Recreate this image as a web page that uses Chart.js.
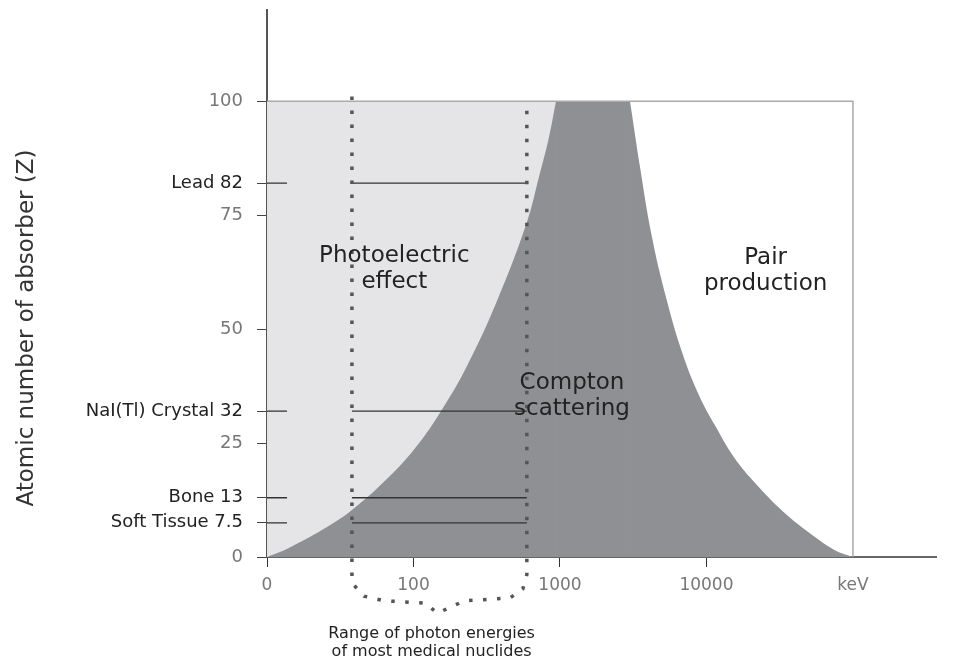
<!DOCTYPE html>
<html>
<head>
<meta charset="utf-8">
<script src="https://cdn.jsdelivr.net/npm/chart.js@4/dist/chart.umd.min.js"></script>
<style>
html, body { margin: 0; padding: 0; background: #fff; }
#wrap { width: 958px; height: 662px; }
</style>
</head>
<body>
<div id="wrap"><canvas id="chart"></canvas></div>
<script>
// boundary photoelectric / compton (energy keV, Z)
const photoEdgeE = [10, 14.1, 23.7, 38, 71.3, 105.6, 154, 232, 372, 595, 719, 841, 939];
const photoEdgeZ = [0, 2.0, 5.9, 10.3, 18.2, 24.4, 32.0, 41.9, 56.2, 73.5, 83.4, 92.1, 100];
// boundary compton / pair production
const pairEdgeE = [3006, 3516, 4246, 5294, 6808, 8892, 11610, 15410, 22120, 35420, 55060, 75330, 100000];
const pairEdgeZ = [100, 85.6, 70.2, 57.0, 45.0, 35.5, 28.5, 21.9, 15.8, 9.2, 4.4, 1.5, 0];

const absorbers = ['Soft Tissue', 'Bone', 'NaI(Tl) Crystal', 'Lead'];
const absorberZ = [7.5, 13, 32, 82];

// range of photon energies of most medical nuclides (keV)
const medicalRange = [38, 594];
// dotted brace drawn down below the axis
const braceE = [38, 38, 46, 63, 119, 146, 223, 455, 558, 594, 594];
const braceZ = [101, -5.7, -8.6, -9.6, -10.1, -12.3, -9.6, -9.0, -7.0, -3.9, 100];

const xTicks = [10, 100, 1000, 10000, 100000];
const xTickLabels = ['0', '100', '1000', '10000', 'keV'];
const yTicks = [0, 25, 50, 75, 100];

const regionText = [
  { lines: ['Photoelectric', 'effect'], e: 74, z: 63.2 },
  { lines: ['Compton', 'scattering'], e: 1208, z: 35.3 },
  { lines: ['Pair', 'production'], e: 25350, z: 62.7 }
];
const caption = { lines: ['Range of photon energies', 'of most medical nuclides'], e: 133, z: -18.9 };

const pts = (xs, ys) => xs.map((x, i) => ({ x: x, y: ys[i] }));

const LIGHT = '#e5e5e8', DARK = '#8f9094';
const topLeftE = photoEdgeE[photoEdgeE.length - 1];

function area(data, color, order, tension) {
  return { data: data, backgroundColor: color, borderWidth: 0, fill: 'origin', tension: tension, order: order };
}

let datasets = [
  // photoelectric zone (whole box up to the pair boundary top)
  area([{ x: xTicks[0], y: 100 }, { x: pairEdgeE[0], y: 100 }], LIGHT, 8, 0),
  // compton zone, built from the two boundaries and the flat top
  area(pts(photoEdgeE, photoEdgeZ), DARK, 7, 0.4),
  area([{ x: topLeftE, y: 100 }, { x: pairEdgeE[0], y: 100 }], DARK, 7, 0),
  area(pts(pairEdgeE, pairEdgeZ), DARK, 7, 0.4),
  {
    data: [{ x: xTicks[0], y: 100 }, { x: 100000, y: 100 }, { x: 100000, y: 0 }],
    borderColor: '#aaaaaa',
    borderWidth: 1.5,
    fill: false,
    order: 4
  }
];

absorberZ.forEach(z => {
  datasets.push({
    data: [{ x: 10, y: z }, { x: 13.7, y: z }, { x: 20, y: null },
           { x: medicalRange[0], y: z }, { x: medicalRange[1], y: z }],
    borderColor: '#333',
    borderWidth: 1.3,
    fill: false,
    order: 3
  });
});

datasets.push({
  data: pts(braceE, braceZ),
  borderColor: '#555',
  borderWidth: 3.5,
  borderDash: [3.5, 10.5],
  borderCapStyle: 'butt',
  fill: false,
  clip: false,
  order: 1
});

const textPlugin = {
  id: 'texts',
  afterDatasetsDraw(chart) {
    const ctx = chart.ctx, x = chart.scales.x, y = chart.scales.y;
    ctx.save();
    ctx.textAlign = 'center';
    ctx.textBaseline = 'middle';
    ctx.fillStyle = '#222';
    ctx.font = '23px "DejaVu Sans"';
    regionText.forEach(t => {
      const px = x.getPixelForValue(t.e), py = y.getPixelForValue(t.z);
      ctx.fillText(t.lines[0], px, py - 13);
      ctx.fillText(t.lines[1], px, py + 13);
    });
    ctx.font = '16px "DejaVu Sans"';
    const cx = x.getPixelForValue(caption.e), cy = y.getPixelForValue(caption.z);
    ctx.fillText(caption.lines[0], cx, cy - 9);
    ctx.fillText(caption.lines[1], cx, cy + 9);
    // axis title
    ctx.font = '23px "DejaVu Sans"';
    ctx.fillStyle = '#333';
    ctx.translate(27, 328);
    ctx.rotate(-Math.PI / 2);
    ctx.fillText('Atomic number of absorber (Z)', 0, 0);
    ctx.restore();
  }
};

new Chart(document.getElementById('chart'), {
  type: 'line',
  data: { datasets: datasets },
  plugins: [textPlugin],
  options: {
    responsive: true,
    maintainAspectRatio: false,
    animation: false,
    layout: { padding: { top: 10, right: 22, left: 0, bottom: 0 } },
    elements: { point: { radius: 0 }, line: { tension: 0 } },
    plugins: { legend: { display: false }, tooltip: { enabled: false } },
    scales: {
      x: {
        type: 'logarithmic',
        min: 10,
        max: 369000,
        afterBuildTicks: s => { s.ticks = xTicks.map(v => ({ value: v })); },
        afterFit: s => { s.height = 105; s.paddingLeft = 0; s.paddingRight = 0; },
        border: { color: '#666', width: 2 },
        grid: {
          drawOnChartArea: false,
          tickLength: 10,
          tickColor: c => c.tick && c.tick.value === 100000 ? 'rgba(0,0,0,0)' : '#333'
        },
        ticks: {
          autoSkip: false,
          maxRotation: 0,
          padding: 8,
          color: '#777',
          font: { family: 'DejaVu Sans', size: 17 },
          callback: v => xTickLabels[xTicks.indexOf(v)]
        }
      },
      y: {
        min: 0,
        max: 120,
        afterBuildTicks: s => {
          s.ticks = yTicks.concat(absorberZ).sort((a, b) => a - b).map(v => ({ value: v }));
        },
        afterFit: s => { s.width = 267; s.paddingTop = 0; s.paddingBottom = 0; },
        border: { color: '#555', width: 2 },
        grid: {
          drawOnChartArea: false,
          tickLength: 10,
          tickColor: '#444'
        },
        ticks: {
          autoSkip: false,
          padding: 14,
          font: { family: 'DejaVu Sans', size: 18 },
          color: c => absorberZ.includes(c.tick.value) ? '#222' : '#777',
          callback: v => {
            const i = absorberZ.indexOf(v);
            return i >= 0 ? absorbers[i] + ' ' + v : String(v);
          }
        }
      }
    }
  }
});
</script>
</body>
</html>
